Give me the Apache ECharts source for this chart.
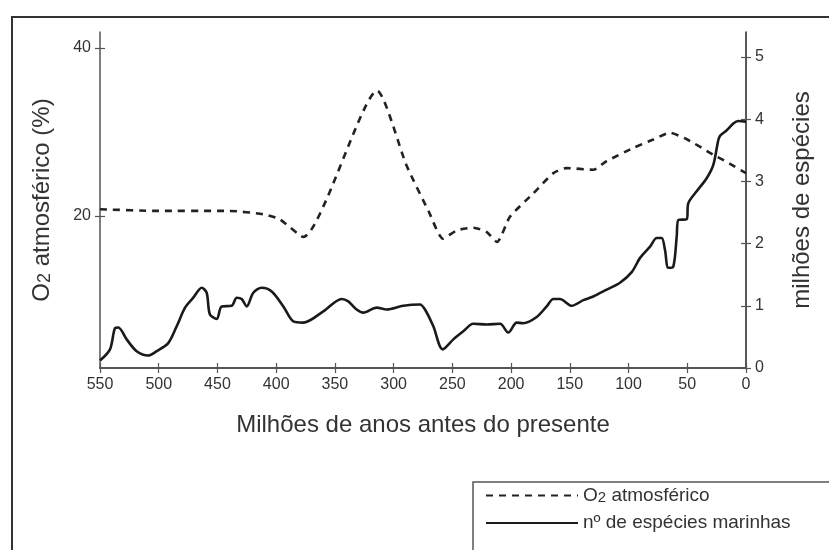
<!DOCTYPE html>
<html>
<head>
<meta charset="utf-8">
<script src="https://cdn.jsdelivr.net/npm/echarts@6/dist/echarts.min.js"></script>
<style>
  html, body { margin: 0; padding: 0; background: #fff; }
  #main { width: 829px; height: 550px; }
</style>
</head>
<body>
<div id="main"></div>
<script>
// O2 atmosférico (%) - eixo esquerdo
const o2Ages = [550, 500, 450, 440, 411, 397, 377, 314, 289, 270, 258, 246, 232, 221, 212, 201, 181, 164, 153, 130, 119, 96, 79, 65, 50, 28, 16, 0];
const o2Values = [20.8, 20.6, 20.6, 20.6, 20.2, 19.6, 17.5, 34.9, 26.0, 20.5, 17.3, 18.3, 18.6, 18.1, 16.9, 19.9, 22.7, 25.1, 25.7, 25.5, 26.5, 28.1, 29.1, 29.9, 29.1, 27.3, 26.4, 25.1];

// nº de espécies marinhas (milhões) - eixo direito
const speciesAges = [550, 541.5, 537.2, 534.4, 527.3, 518.8, 508.9, 501.7, 491.9, 484.7, 477.6, 470.6, 463.4, 459.2, 456.4, 450.6, 446.4, 437.9, 433.6, 429.4, 425.1, 419.5, 412.3, 403.8, 393.9, 385.4, 376.9, 359.9, 344.2, 338.6, 331.5, 325.8, 314.4, 305.9, 291.8, 277.6, 273.3, 266.2, 258.2, 249.2, 240.7, 232.2, 220.8, 209.4, 202.4, 195.2, 189.6, 178.2, 169.7, 164.1, 158.4, 148.4, 138.5, 130, 118.6, 107.3, 97.3, 90.2, 81.7, 76, 71.8, 69, 66.2, 61.9, 59, 57.6, 50.5, 49.1, 42, 33.5, 27.9, 23.6, 22.1, 16.4, 10.8, 6.6, 0];
const speciesValues = [0.12, 0.30, 0.64, 0.65, 0.46, 0.27, 0.20, 0.27, 0.40, 0.67, 0.97, 1.13, 1.29, 1.21, 0.86, 0.79, 0.99, 1.00, 1.13, 1.11, 0.99, 1.21, 1.29, 1.23, 0.99, 0.75, 0.73, 0.91, 1.11, 1.07, 0.94, 0.89, 0.97, 0.94, 1.00, 1.02, 0.94, 0.67, 0.30, 0.46, 0.59, 0.71, 0.70, 0.71, 0.57, 0.73, 0.72, 0.82, 0.99, 1.11, 1.11, 1.00, 1.09, 1.15, 1.26, 1.37, 1.54, 1.77, 1.95, 2.09, 2.09, 1.90, 1.61, 1.63, 2.11, 2.38, 2.39, 2.65, 2.84, 3.05, 3.26, 3.66, 3.73, 3.82, 3.93, 3.97, 3.96];

const o2TickValues = [20, 40];
const speciesTickValues = [0, 1, 2, 3, 4, 5];

const font = "Liberation Sans, Arial, sans-serif";
const axisColor = "#555";
const textColor = "#333";

const subRich = {
  a: { fontSize: 24, lineHeight: 24, verticalAlign: "top", color: textColor, fontFamily: font },
  s: { fontSize: 18, lineHeight: 18, verticalAlign: "bottom", padding: [10, 0, 0, 0], color: textColor, fontFamily: font },
};
const legendRich = {
  a: { fontSize: 19, lineHeight: 19, verticalAlign: "top", color: textColor, fontFamily: font },
  s: { fontSize: 15, lineHeight: 15, verticalAlign: "bottom", padding: [8, 0, 0, 0], color: textColor, fontFamily: font },
};

const o2Data = o2Ages.map((age, i) => [age, o2Values[i]]);
const speciesData = speciesAges.map((age, i) => [age, speciesValues[i]]);

const chart = echarts.init(document.getElementById("main"));

const xBase = {
  type: "value",
  min: 0,
  max: 550,
  interval: 50,
  inverse: true,
  position: "bottom",
  splitLine: { show: false },
};
const tickStyle = { color: axisColor, width: 1.2 };

const option = {
  animation: false,
  grid: { left: 100, right: 83, top: 32, bottom: 182, containLabel: false },
  xAxis: [
    {
      ...xBase,
      name: "Milhões de anos antes do presente",
      nameLocation: "middle",
      nameGap: 45,
      nameTextStyle: { fontSize: 24, color: textColor, fontFamily: font },
      axisLine: { onZero: false, lineStyle: { color: axisColor, width: 2 } },
      axisTick: { length: 5, lineStyle: tickStyle },
      axisLabel: { margin: 9, fontSize: 16, color: textColor, fontFamily: font },
    },
    {
      // metade interna dos traços (traços cruzados)
      ...xBase,
      axisLine: { show: false, onZero: false },
      axisTick: { inside: true, length: 5, lineStyle: tickStyle },
      axisLabel: { show: false },
    },
  ],
  yAxis: [
    {
      type: "value",
      position: "left",
      min: 1.9,
      max: 41.9,
      name: "{a|O}{s|2}{a| atmosférico (%)}",
      nameLocation: "middle",
      nameRotate: 90,
      nameGap: 46,
      nameTextStyle: { rich: subRich },
      splitLine: { show: false },
      axisLine: { show: true, onZero: false, lineStyle: { color: axisColor, width: 1.5 } },
      axisTick: { show: true, length: 5, customValues: o2TickValues, lineStyle: tickStyle },
      axisLabel: { margin: 9, fontSize: 16, color: textColor, fontFamily: font, customValues: o2TickValues },
    },
    {
      type: "value",
      position: "right",
      min: 0,
      max: 5.4,
      name: "milhões de espécies",
      nameLocation: "middle",
      nameRotate: 90,
      nameGap: 44,
      nameTextStyle: { fontSize: 24, color: textColor, fontFamily: font },
      splitLine: { show: false },
      axisLine: { show: true, onZero: false, lineStyle: { color: "#222", width: 1.5 } },
      axisTick: { show: true, length: 5, customValues: speciesTickValues, lineStyle: tickStyle },
      axisLabel: { margin: 9, fontSize: 16, color: textColor, fontFamily: font, customValues: speciesTickValues },
    },
    {
      type: "value",
      position: "left",
      min: 1.9,
      max: 41.9,
      splitLine: { show: false },
      axisLine: { show: false, onZero: false },
      axisTick: { show: true, inside: true, length: 5, customValues: o2TickValues, lineStyle: tickStyle },
      axisLabel: { show: false },
    },
    {
      type: "value",
      position: "right",
      min: 0,
      max: 5.4,
      splitLine: { show: false },
      axisLine: { show: false, onZero: false },
      axisTick: { show: true, inside: true, length: 5, customValues: speciesTickValues, lineStyle: tickStyle },
      axisLabel: { show: false },
    },
  ],
  legend: {
    orient: "vertical",
    left: 485,
    top: 482,
    padding: 0,
    itemWidth: 92,
    itemHeight: 14,
    itemGap: 7,
    itemStyle: { opacity: 0 },
    textStyle: { fontSize: 19, lineHeight: 22, color: textColor, fontFamily: font, rich: legendRich },
    formatter: (name) => (name === "O2 atmosférico" ? "{a|O}{s|2}{a| atmosférico}" : name),
    data: ["O2 atmosférico", "nº de espécies marinhas"],
  },
  graphic: [
    {
      type: "rect",
      shape: { x: 12, y: 17, width: 900, height: 700 },
      style: { fill: "none", stroke: "#333", lineWidth: 2 },
      silent: true,
    },
    {
      type: "rect",
      shape: { x: 473, y: 482, width: 500, height: 200 },
      style: { fill: "none", stroke: "#555", lineWidth: 1.5 },
      silent: true,
    },
  ],
  series: [
    {
      name: "O2 atmosférico",
      type: "line",
      xAxisIndex: 0,
      yAxisIndex: 0,
      data: o2Data,
      symbol: "none",
      smooth: 0.2,
      lineStyle: { color: "#222", width: 2.6, type: [7, 6] },
      itemStyle: { color: "#222" },
    },
    {
      name: "nº de espécies marinhas",
      type: "line",
      xAxisIndex: 0,
      yAxisIndex: 1,
      data: speciesData,
      symbol: "none",
      smooth: 0.3,
      lineStyle: { color: "#1a1a1a", width: 2.6 },
      itemStyle: { color: "#1a1a1a" },
    },
  ],
};

chart.setOption(option);
</script>
</body>
</html>
